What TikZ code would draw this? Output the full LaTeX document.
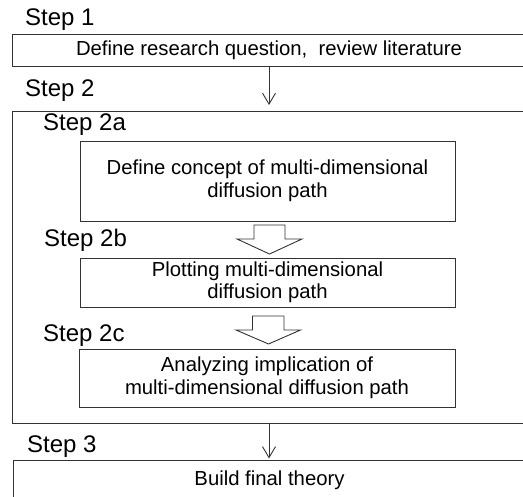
\documentclass[tikz,border=0pt]{standalone}
\usepackage{fontspec}
\setmainfont{Liberation Sans}
\usetikzlibrary{arrows.meta,calc}
\begin{document}
\begin{tikzpicture}[x=1pt,y=-1pt,
  box/.style={draw=black!80,line width=0.9pt,inner sep=0pt,align=center,
    font=\fontsize{20.3}{22.5}\selectfont},
  steplabel/.style={anchor=base west,inner sep=0pt,font=\fontsize{24}{26}\selectfont},
  thinarrow/.style={draw=black!80,line width=0.9pt,-{Straight Barb[length=11pt,width=13pt,line width=0.9pt]}},
  hollow/.style={draw=black!80,line width=0.9pt,fill=white,line join=miter}]
\clip (0,0) rectangle (523,497);
\fill[white] (0,0) rectangle (523,497);
% Step 1
\node[steplabel] (l1) at (25,26) {Step 1};
\node[box,minimum width=514pt,minimum height=32pt] (b1) at (269,50) {Define research question,~ review literature};
% Step 2
\node[steplabel] (l2) at (25,97) {Step 2};
\node[box,minimum width=514pt,minimum height=312pt] (b2) at (269,267) {};
\node[steplabel] (l2a) at (43,131) {Step 2a};
\node[box,minimum width=375pt,minimum height=80pt] (b2a) at (267.5,181) {Define concept of multi-dimensional\\diffusion path};
\node[steplabel] (l2b) at (44,247) {Step 2b};
\node[box,minimum width=375pt,minimum height=49pt] (b2b) at (267.5,282.5) {Plotting multi-dimensional\\diffusion path};
\node[steplabel] (l2c) at (43,342) {Step 2c};
\node[box,minimum width=376pt,minimum height=58pt] (b2c) at (267,378) {Analyzing implication of\\multi-dimensional diffusion path};
% Step 3
\node[steplabel] (l3) at (27,453) {Step 3};
\node[box,minimum width=513pt,minimum height=40pt] (b3) at (269.5,480) {Build final theory};
% thin arrows
\coordinate (a1s) at (269,66);
\coordinate (a1e) at (269,105);
\draw[thinarrow] (a1s) -- (a1e);
\coordinate (a2s) at (269,423);
\coordinate (a2e) at (269,458.5);
\draw[thinarrow] (a2s) -- (a2e);
% hollow arrows
\draw[hollow] (254,225) -- (285,225) -- (285,239) -- (302,239) -- (269.5,254) -- (237,239) -- (254,239) -- cycle;
\draw[hollow] (252.5,316) -- (284,316) -- (284,330) -- (300.5,330) -- (268.5,344) -- (236,330) -- (252.5,330) -- cycle;
\end{tikzpicture}
\end{document}
